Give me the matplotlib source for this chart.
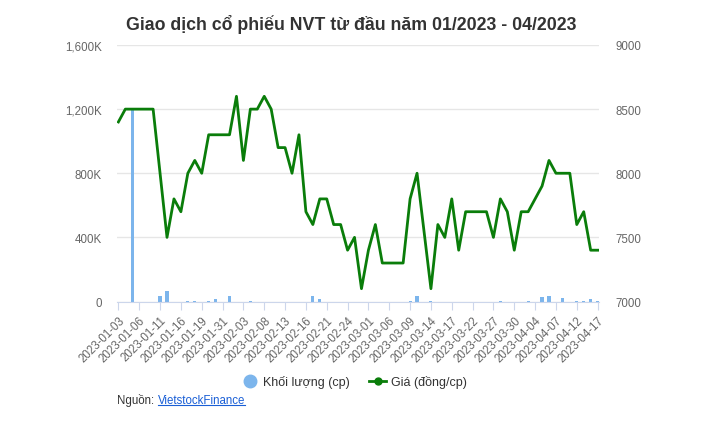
import numpy as np
import matplotlib
matplotlib.use("Agg")
import matplotlib.pyplot as plt
from matplotlib.lines import Line2D
from matplotlib.ticker import FuncFormatter

plt.rcParams['font.family'] = ['Liberation Sans', 'DejaVu Sans']

# trading days 01/2023 - 04/2023
dates = ['2023-01-03', '2023-01-04', '2023-01-05', '2023-01-06', '2023-01-09', '2023-01-10',
         '2023-01-11', '2023-01-12', '2023-01-13', '2023-01-16', '2023-01-17', '2023-01-18',
         '2023-01-19', '2023-01-27', '2023-01-30', '2023-01-31',
         '2023-02-01', '2023-02-02', '2023-02-03', '2023-02-06', '2023-02-07', '2023-02-08',
         '2023-02-09', '2023-02-10', '2023-02-13', '2023-02-14', '2023-02-15', '2023-02-16',
         '2023-02-17', '2023-02-20', '2023-02-21', '2023-02-22', '2023-02-23', '2023-02-24',
         '2023-02-27', '2023-02-28',
         '2023-03-01', '2023-03-02', '2023-03-03', '2023-03-06', '2023-03-07', '2023-03-08',
         '2023-03-09', '2023-03-10', '2023-03-13', '2023-03-14', '2023-03-15', '2023-03-16',
         '2023-03-17', '2023-03-20', '2023-03-21', '2023-03-22', '2023-03-23', '2023-03-24',
         '2023-03-27', '2023-03-28', '2023-03-29', '2023-03-30', '2023-03-31',
         '2023-04-03', '2023-04-04', '2023-04-05', '2023-04-06', '2023-04-07', '2023-04-10',
         '2023-04-11', '2023-04-12', '2023-04-13', '2023-04-14', '2023-04-17']

# giá (đồng/cp)
price = [8400, 8500, 8500, 8500, 8500, 8500, 8000, 7500, 7800, 7700,
         8000, 8100, 8000, 8300, 8300, 8300, 8300, 8600, 8100, 8500,
         8500, 8600, 8500, 8200, 8200, 8000, 8300, 7700, 7600, 7800,
         7800, 7600, 7600, 7400, 7500, 7100, 7400, 7600, 7300, 7300,
         7300, 7300, 7800, 8000, 7550, 7100, 7600, 7500, 7800, 7400,
         7700, 7700, 7700, 7700, 7500, 7800, 7700, 7400, 7700, 7700,
         7800, 7900, 8100, 8000, 8000, 8000, 7600, 7700, 7400, 7400]

# khối lượng (nghìn cp)
volume_k = [0, 0, 1210, 0, 0, 0, 35, 64, 0, 0,
            4, 4, 0, 4, 14, 0, 35, 0, 0, 3,
            0, 0, 0, 0, 0, 0, 0, 0, 33, 14,
            0, 0, 0, 0, 0, 0, 0, 0, 0, 0,
            0, 0, 4, 33, 0, 4, 0, 0, 0, 0,
            0, 0, 0, 0, 0, 3, 0, 0, 0, 3,
            0, 25, 33, 0, 19, 0, 4, 6, 17, 5]

tick_idx = list(range(0, len(dates), 3))

fig = plt.figure(figsize=(7.02, 4.27), dpi=100)
ax = fig.add_axes([117 / 702, 1 - 302.5 / 427, (599 - 117) / 702, (302.5 - 46) / 427])
ax2 = ax.twinx()

x = np.arange(len(dates))
ax.bar(x, np.array(volume_k) * 1000, width=0.45, color='#7cb5ec', zorder=2)
ax2.plot(x, price, color='#0a7d0a', lw=2, zorder=3)

ax.set_xlim(-0.2, len(dates) - 0.8)
ax.set_ylim(0, 1600000)
ax.set_yticks([0, 400000, 800000, 1200000, 1600000])
ax.yaxis.set_major_formatter(FuncFormatter(lambda v, p: '0' if v == 0 else f'{int(v / 1000):,}K'))
ax2.set_ylim(7000, 9000)
ax2.set_yticks([7000, 7500, 8000, 8500, 9000])
ax2.set_xlim(ax.get_xlim())

ax.grid(axis='y', color='#e6e6e6', lw=1, zorder=0)
ax.set_axisbelow(True)
for a in (ax, ax2):
    for s in ('top', 'left', 'right', 'bottom'):
        a.spines[s].set_visible(False)
ax.spines['bottom'].set_visible(True)
ax.spines['bottom'].set_color('#ccd6eb')

ax.set_xticks(tick_idx)
ax.set_xticklabels([dates[i] for i in tick_idx], rotation=45, ha='right',
                   rotation_mode='anchor', fontsize=8.3, color='#666666')
ax.tick_params(axis='x', length=6, color='#ccd6eb', pad=3)
ax.tick_params(axis='y', length=0, pad=11, labelsize=8.3, labelcolor='#666666')
ax2.tick_params(axis='y', length=0, pad=12, labelsize=8.3, labelcolor='#666666')

fig.text(0.5, 1 - 24 / 427, 'Giao dịch cổ phiếu NVT từ đầu năm 01/2023 - 04/2023',
         ha='center', va='center', fontsize=12.8, fontweight='bold', color='#333333')

# legend
handles = [Line2D([], [], ls='none', marker='o', ms=9, color='#7cb5ec'),
           Line2D([], [], color='#0a7d0a', lw=2, marker='o', ms=5)]
fig.legend(handles, ['Khối lượng (cp)', 'Giá (đồng/cp)'], loc='center',
           bbox_to_anchor=(354 / 702, 1 - 383 / 427), ncol=2, frameon=False,
           fontsize=9, labelcolor='#333333', handlelength=1.3, columnspacing=1.6,
           handletextpad=0.4)

fig.text(117 / 702, 1 - 401 / 427, 'Nguồn: ', ha='left', va='center', fontsize=8.3, color='#333333')
link = fig.text(158 / 702, 1 - 401 / 427, 'VietstockFinance', ha='left', va='center',
                fontsize=8.3, color='#1a5fd6')
fig.canvas.draw()
bb = link.get_window_extent().transformed(fig.transFigure.inverted())
fig.add_artist(Line2D([bb.x0, bb.x1], [bb.y0 + 0.002, bb.y0 + 0.002], color='#1a5fd6',
                      lw=0.8, transform=fig.transFigure))

fig.savefig('out.png', dpi=100)
